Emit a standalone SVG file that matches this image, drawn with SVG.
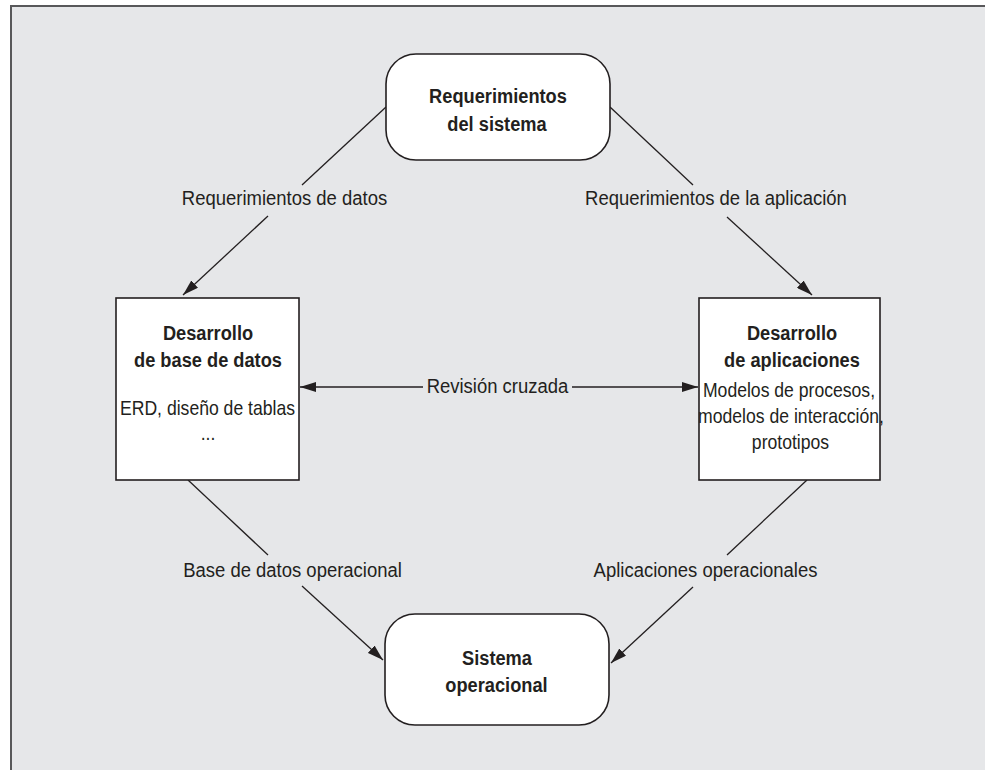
<svg xmlns="http://www.w3.org/2000/svg" width="985" height="770" viewBox="0 0 985 770">
  <style>
    .panel { fill: #e6e7e9; stroke: #58585a; stroke-width: 2; }
    .node { fill: #ffffff; stroke: #231f20; stroke-width: 1.6; }
    text { font-family: "Liberation Sans", Arial, sans-serif; fill: #231f20; text-anchor: middle; }
    .title { font-weight: bold; font-size: 20.5px; }
    .body { font-size: 20px; }
    .label { font-size: 21px; }
    .edge { stroke: #231f20; stroke-width: 1.3; fill: none; }
  </style>
  <defs>
    <marker id="arrow" viewBox="0 0 16 10" refX="16" refY="5" markerWidth="16" markerHeight="10" markerUnits="userSpaceOnUse" orient="auto">
      <path d="M0,0 L16,5 L0,10 Z" fill="#231f20"/>
    </marker>
  </defs>

  <!-- background panel -->
  <rect class="panel" x="11" y="6" width="990" height="780"/>

  <!-- connectors (text is narrowed horizontally to a condensed face) -->
  <g id="connectors">
    <line class="edge" x1="386" y1="107" x2="302" y2="185"/>
    <line class="edge" x1="268" y1="216" x2="183" y2="295" marker-end="url(#arrow)"/>
    <text class="label" transform="translate(284.5 205) scale(0.88 1)">Requerimientos de datos</text>

    <line class="edge" x1="610" y1="107" x2="693" y2="185"/>
    <line class="edge" x1="727" y1="217" x2="812" y2="295" marker-end="url(#arrow)"/>
    <text class="label" transform="translate(716 205) scale(0.88 1)">Requerimientos de la aplicación</text>

    <line class="edge" x1="423" y1="387" x2="300" y2="387" marker-end="url(#arrow)"/>
    <line class="edge" x1="572" y1="387" x2="698" y2="387" marker-end="url(#arrow)"/>
    <text class="label" transform="translate(497.5 393) scale(0.88 1)">Revisión cruzada</text>

    <line class="edge" x1="188" y1="480" x2="268" y2="555"/>
    <line class="edge" x1="302" y1="586" x2="383" y2="660" marker-end="url(#arrow)"/>
    <text class="label" transform="translate(292.5 577) scale(0.88 1)">Base de datos operacional</text>

    <line class="edge" x1="807" y1="480" x2="727" y2="555"/>
    <line class="edge" x1="693" y1="587" x2="611" y2="663" marker-end="url(#arrow)"/>
    <text class="label" transform="translate(705.5 577) scale(0.88 1)">Aplicaciones operacionales</text>
  </g>

  <!-- nodes -->
  <g id="requerimientos-sistema">
    <rect class="node" x="386" y="54" width="224" height="106" rx="30" ry="30"/>
    <text class="title" transform="translate(498 103) scale(0.89 1)">Requerimientos</text>
    <text class="title" transform="translate(497 131) scale(0.89 1)">del sistema</text>
  </g>

  <g id="desarrollo-bd">
    <rect class="node" x="116" y="298" width="183" height="182"/>
    <text class="title" transform="translate(208 340) scale(0.89 1)">Desarrollo</text>
    <text class="title" transform="translate(208 367) scale(0.89 1)">de base de datos</text>
    <text class="body" transform="translate(207.5 415) scale(0.88 1)">ERD, diseño de tablas</text>
    <text class="body" transform="translate(208 440) scale(0.88 1)">...</text>
  </g>

  <g id="desarrollo-aplicaciones">
    <rect class="node" x="699" y="298" width="181" height="182"/>
    <text class="title" transform="translate(792 340) scale(0.89 1)">Desarrollo</text>
    <text class="title" transform="translate(792 367) scale(0.89 1)">de aplicaciones</text>
    <text class="body" transform="translate(789 397) scale(0.88 1)">Modelos de procesos,</text>
    <text class="body" transform="translate(791 423) scale(0.88 1)">modelos de interacción,</text>
    <text class="body" transform="translate(790.5 449) scale(0.88 1)">prototipos</text>
  </g>

  <g id="sistema-operacional">
    <rect class="node" x="385" y="614" width="224" height="111" rx="30" ry="30"/>
    <text class="title" transform="translate(497 665) scale(0.89 1)">Sistema</text>
    <text class="title" transform="translate(496.5 692) scale(0.89 1)">operacional</text>
  </g>
</svg>
